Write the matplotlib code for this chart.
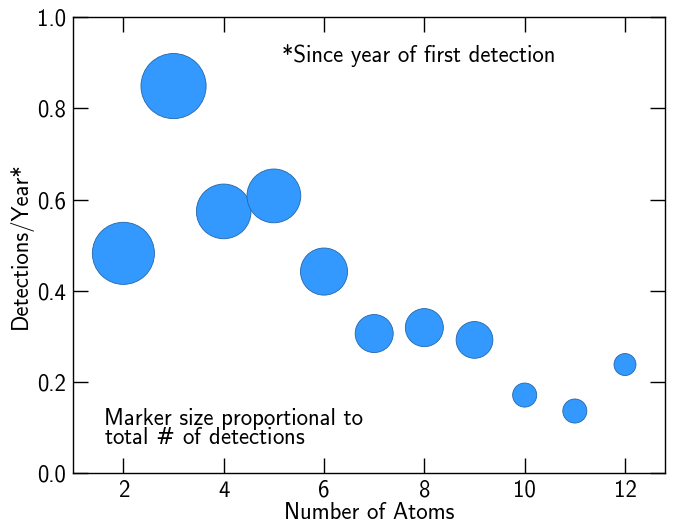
import matplotlib
matplotlib.use("Agg")
import matplotlib.pyplot as plt

plt.rcParams["font.family"] = ["cmss10", "DejaVu Sans"]
plt.rcParams["axes.unicode_minus"] = False
plt.rcParams["font.size"] = 16.4

# detections per year by molecule size
n_atoms = [2, 3, 4, 5, 6, 7, 8, 9, 10, 11, 12]
rate = [0.482, 0.849, 0.574, 0.608, 0.442, 0.306, 0.319, 0.292, 0.171, 0.136, 0.238]
total = [40, 44, 31, 30, 23, 15, 15, 14, 6, 6, 5]

fig = plt.figure(figsize=(6.78, 5.23), dpi=100)
ax = fig.add_axes([0.108, 0.0956, 0.873, 0.8714])

ax.scatter(n_atoms, rate, s=[50 * t for t in total], color="#3399ff",
           edgecolor="#2266aa", linewidth=0.6, zorder=3)

ax.set_xlim(1, 12.8)
ax.set_ylim(0, 1.0)
ax.set_xticks([2, 4, 6, 8, 10, 12])
ax.set_yticks([0.0, 0.2, 0.4, 0.6, 0.8, 1.0])
ax.tick_params(direction="in", length=11, width=1, top=True, right=True,
               labelsize=16.4, pad=5)
for sp in ax.spines.values():
    sp.set_linewidth(1)

ax.set_xlabel("Number of Atoms", labelpad=0)
ax.set_ylabel("Detections/Year*", labelpad=3)

ax.text(0.352, 0.917, "*Since year of first detection", transform=ax.transAxes,
        va="center", ha="left")
ax.text(0.052, 0.052, "Marker size proportional to\ntotal $\\#$ of detections",
        transform=ax.transAxes, va="bottom", ha="left", linespacing=0.85)

fig.savefig("out.png", dpi=100)
